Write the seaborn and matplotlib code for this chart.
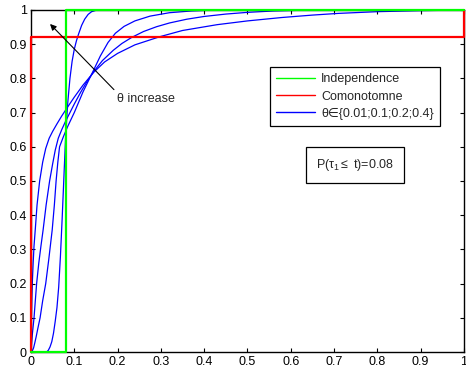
import matplotlib
matplotlib.use('Agg')
import matplotlib.pyplot as plt
import seaborn as sns

# step curves
indep_x = [0, 0.08, 0.08, 1]
indep_y = [0, 0, 1, 1]
comon_x = [0, 0, 1, 1]
comon_y = [0, 0.92, 0.92, 1]

# blue curves, one per theta
theta_001_x = [0, 0.036, 0.04, 0.044, 0.048, 0.052, 0.056, 0.06, 0.064, 0.068, 0.072, 0.076, 0.08,
               0.085, 0.09, 0.095, 0.1, 0.105, 0.11, 0.117, 0.124, 0.132, 0.14, 0.15, 0.17, 1]
theta_001_y = [0, 0, 0.005, 0.015, 0.03, 0.055, 0.09, 0.13, 0.19, 0.28, 0.39, 0.51, 0.63,
               0.73, 0.8, 0.85, 0.885, 0.91, 0.93, 0.955, 0.973, 0.987, 0.995, 0.999, 1, 1]

theta_01_x = [0, 0.003, 0.006, 0.009, 0.012, 0.016, 0.021, 0.027, 0.034, 0.041, 0.049, 0.054, 0.058,
              0.062, 0.066, 0.075, 0.085, 0.1, 0.12, 0.145, 0.16, 0.178, 0.195, 0.215, 0.24, 0.275,
              0.32, 0.37, 0.43, 1]
theta_01_y = [0, 0.003, 0.012, 0.028, 0.045, 0.07, 0.1, 0.15, 0.2, 0.27, 0.357, 0.43, 0.5,
              0.555, 0.6, 0.63, 0.66, 0.7, 0.76, 0.825, 0.865, 0.905, 0.932, 0.952, 0.968, 0.982,
              0.992, 0.997, 1, 1]

theta_02_x = [0, 0.001, 0.003, 0.007, 0.01, 0.013, 0.018, 0.023, 0.028, 0.035, 0.043, 0.05, 0.056,
              0.063, 0.071, 0.08, 0.09, 0.1, 0.115, 0.13, 0.145, 0.165, 0.19, 0.21, 0.233, 0.26,
              0.29, 0.32, 0.36, 0.4, 0.45, 0.5, 0.56, 0.62, 0.7, 1]
theta_02_y = [0, 0.02, 0.05, 0.1, 0.15, 0.2, 0.26, 0.31, 0.357, 0.43, 0.5, 0.55, 0.59,
              0.625, 0.65, 0.675, 0.7, 0.725, 0.76, 0.792, 0.82, 0.852, 0.882, 0.902, 0.92, 0.937,
              0.951, 0.962, 0.973, 0.981, 0.988, 0.993, 0.997, 0.999, 1, 1]

theta_04_x = [0, 0.0005, 0.001, 0.002, 0.003, 0.005, 0.007, 0.01, 0.014, 0.02, 0.027, 0.034, 0.042,
              0.05, 0.06, 0.071, 0.085, 0.1, 0.12, 0.145, 0.17, 0.2, 0.24, 0.298, 0.35, 0.43,
              0.5, 0.58, 0.65, 0.71, 0.8, 0.9, 1]
theta_04_y = [0, 0.06, 0.1, 0.16, 0.2, 0.26, 0.31, 0.36, 0.43, 0.5, 0.555, 0.595, 0.625,
              0.645, 0.667, 0.69, 0.717, 0.745, 0.78, 0.818, 0.848, 0.873, 0.898, 0.922, 0.94, 0.957,
              0.968, 0.978, 0.985, 0.99, 0.995, 0.998, 1]

ticks = [0, 0.1, 0.2, 0.3, 0.4, 0.5, 0.6, 0.7, 0.8, 0.9, 1]
tick_labels = ['0', '0.1', '0.2', '0.3', '0.4', '0.5', '0.6', '0.7', '0.8', '0.9', '1']

sns.set_style('ticks')
plt.rcParams['font.family'] = ['Liberation Sans', 'DejaVu Sans']
plt.rcParams['mathtext.fontset'] = 'custom'
plt.rcParams['mathtext.rm'] = 'Liberation Sans'
plt.rcParams['mathtext.it'] = 'Liberation Sans'

fig = plt.figure(figsize=(4.66, 3.69), dpi=100)
ax = fig.add_axes([0.0665, 0.046, 0.929, 0.927])

blue = '#0000ff'
for xs, ys in [(theta_001_x, theta_001_y), (theta_01_x, theta_01_y),
               (theta_02_x, theta_02_y), (theta_04_x, theta_04_y)]:
    sns.lineplot(x=xs, y=ys, sort=False, estimator=None, color=blue, lw=0.9, ax=ax)
sns.lineplot(x=comon_x, y=comon_y, sort=False, estimator=None, color='#ff0000', lw=1.6, ax=ax,
             clip_on=False, zorder=3)
sns.lineplot(x=indep_x, y=indep_y, sort=False, estimator=None, color='#00ff00', lw=1.6, ax=ax,
             clip_on=False, zorder=3)

ax.set_xlim(0, 1)
ax.set_ylim(0, 1)
ax.set_xticks(ticks)
ax.set_xticklabels(tick_labels)
ax.set_yticks(ticks)
ax.set_yticklabels(tick_labels)
ax.tick_params(direction='in', top=True, right=True, labelsize=9, length=3, width=0.8, pad=3, colors='black')
for s in ax.spines.values():
    s.set_visible(True)
    s.set_color('black')
    s.set_linewidth(1)

handles = [plt.Line2D([], [], color='#00ff00', lw=1),
           plt.Line2D([], [], color='#ff0000', lw=1),
           plt.Line2D([], [], color=blue, lw=1)]
labels = ['Independence', 'Comonotomne', '\u03b8\u2208{0.01;0.1;0.2;0.4}']
leg = ax.legend(handles, labels, loc='upper left', bbox_to_anchor=(0.552, 0.833), fontsize=9,
                frameon=True, fancybox=False, edgecolor='black', framealpha=1,
                handlelength=3.1, borderpad=0.5, labelspacing=0.42, handletextpad=0.5, borderaxespad=0)
leg.get_frame().set_linewidth(0.9)

ax.text(0.749, 0.547, r'P($\tau_1$$\leq$ t)=0.08', transform=ax.transAxes, fontsize=9,
        ha='center', va='center',
        bbox=dict(boxstyle='square,pad=0.8', fc='white', ec='black', lw=0.9))

ax.annotate('\u03b8 increase', xy=(0.044, 0.959), xytext=(0.199, 0.74), fontsize=9,
            ha='left', va='center',
            arrowprops=dict(arrowstyle='-|>', color='black', lw=0.8, shrinkA=0, shrinkB=0,
                            mutation_scale=9, relpos=(0, 1)))

fig.savefig('out.png', dpi=100)
